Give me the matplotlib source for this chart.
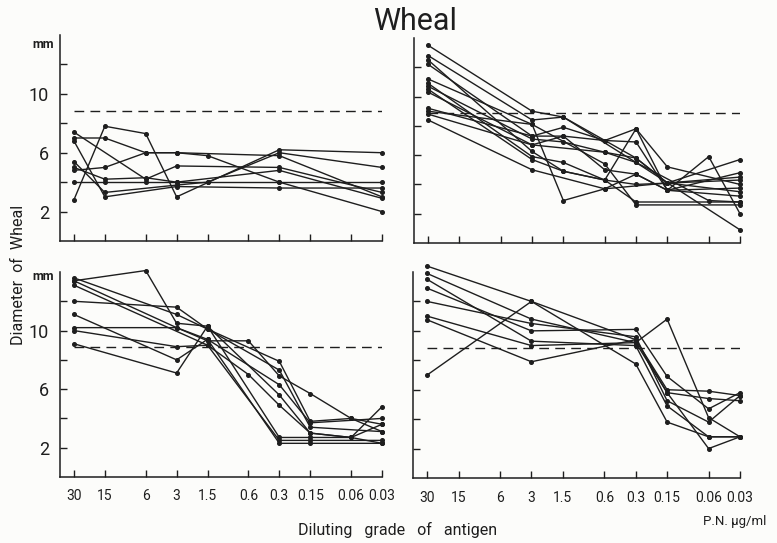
import matplotlib.pyplot as plt

# dilution grades of the antigen (P.N. ug/ml) on the x axis
dilutions = [30, 15, 6, 3, 1.5, 0.6, 0.3, 0.15, 0.06, 0.03]
dilution_labels = ['30', '15', '6', '3', '1.5', '0.6', '0.3', '0.15', '0.06', '0.03']

# wheal diameter (mm) per subject; None = no reading at that grade
top_left = [
    [2.8, 7.8, 7.3, 3.0, None, None, 6.2, None, None, 6.0],
    [7.0, 7.0, 6.0, 6.0, None, None, 5.8, None, None, 3.0],
    [7.4, None, 4.2, 5.1, None, None, 5.0, None, None, 3.3],
    [4.0, 4.0, 4.0, 4.0, 4.0, None, 4.0, None, None, 4.0],
    [6.8, 3.0, None, 3.7, None, None, 3.6, None, None, 3.6],
    [5.4, 3.3, None, 3.8, 4.0, None, 6.0, None, None, 5.0],
    [5.0, 4.2, 4.3, 4.0, None, None, 4.8, None, None, 2.9],
    [4.8, 5.0, 6.0, 6.0, 5.8, None, 4.0, None, None, 2.0],
]

top_right = [
    [13.5, None, None, 9.0, 8.6, None, 5.5, None, None, 0.9],
    [12.8, None, None, 8.4, 8.6, None, 5.8, 4.1, None, 3.5],
    [12.5, None, None, 6.25, 4.9, 4.3, 7.8, 5.2, None, 4.0],
    [12.2, None, None, 7.3, 7.9, 7.0, 6.9, 3.6, 5.9, 2.0],
    [11.2, None, None, 8.1, 2.9, 3.7, None, 4.1, None, 4.5],
    [10.9, None, None, 5.9, 5.5, 4.3, 4.0, None, None, 4.3],
    [10.7, None, None, 7.1, 6.9, 6.2, 5.5, None, 2.9, 2.8],
    [10.5, None, None, 5.7, 4.9, 4.3, 2.8, None, None, 2.8],
    [10.3, None, None, 6.7, 7.3, 5.0, 4.7, 3.6, None, 3.75],
    [9.2, None, None, 7.3, 7.3, 7.0, 7.8, 3.6, None, 4.8],
    [9.0, None, None, 8.1, None, 5.4, 2.6, None, None, 2.6],
    [8.8, None, None, 6.7, None, 6.2, 5.8, 4.1, None, 5.7],
    [8.4, None, None, 5.0, None, 3.7, 4.7, 3.6, None, 3.2],
]

bottom_left = [
    [13.4, None, 14.1, 10.5, 10.3, None, 2.7, 2.7, 2.7, 3.6],
    [13.6, None, None, 11.1, 10.1, None, 7.3, 3.4, None, 3.1],
    [13.1, None, None, None, 9.0, None, 2.5, 2.5, None, 2.5],
    [12.0, None, None, 11.6, 10.1, None, 7.9, 3.8, 4.0, 3.6],
    [11.1, None, None, 8.0, 9.4, None, 6.3, 3.7, None, 4.0],
    [10.2, None, None, 10.2, 9.3, 9.3, 6.9, 5.7, 4.0, 3.1],
    [10.0, None, None, 8.9, 9.0, 7.0, 4.9, 3.0, 2.7, 4.8],
    [9.1, None, None, 7.1, 10.3, None, 5.6, 3.0, 2.7, 2.3],
    [13.4, None, None, 10.2, 9.4, None, 2.3, 2.3, None, 2.3],
]

bottom_right = [
    [14.4, None, None, 12.0, None, None, 9.4, 6.0, 5.9, 5.6],
    [13.9, None, None, 10.8, None, None, 9.2, 5.8, 5.4, 5.25],
    [13.5, None, None, 9.3, None, None, 9.0, 4.9, 2.8, 2.8],
    [12.9, None, None, 10.0, None, None, 10.1, 6.9, 4.7, 5.8],
    [12.0, None, None, 10.5, None, None, 9.6, 5.25, 3.8, 5.6],
    [11.0, None, None, 9.0, None, None, 9.2, 10.8, 4.1, 2.8],
    [10.75, None, None, 7.9, None, None, 9.4, 5.8, 2.0, 2.8],
    [7.0, None, None, 12.0, None, None, 7.75, 3.8, 2.8, 2.8],
]

threshold_mm = 8.85

INK = '#1e1e1e'
FIG_W, FIG_H = 777, 543

plt.rcParams['font.family'] = ['Roboto', 'DejaVu Sans']


def px_axes(fig, left, top, right, bottom):
    return fig.add_axes([left / FIG_W, 1 - bottom / FIG_H,
                         (right - left) / FIG_W, (bottom - top) / FIG_H])


def draw_panel(ax, series, xlabels, ylabels):
    for row in series:
        xs = [d for d, v in zip(dilutions, row) if v is not None]
        ys = [v for v in row if v is not None]
        ax.plot(xs, ys, color=INK, lw=1.0, marker='o', ms=2.6, clip_on=False)
    ax.plot([dilutions[0], dilutions[-1]], [threshold_mm, threshold_mm],
            color=INK, lw=1.0, ls=(0, (7, 4.5)))

    ax.set_xscale('log')
    ax.set_xlim(41, 0.03)
    ax.set_ylim(0, 14)
    ax.minorticks_off()
    ax.set_xticks(dilutions)
    ax.set_xticklabels(dilution_labels if xlabels else [''] * len(dilutions))
    ax.set_yticks([2, 4, 6, 8, 10, 12])
    ax.set_yticklabels(['2', '', '6', '', '10', ''] if ylabels else [''] * 6)
    ax.tick_params(direction='in', length=5, width=1, color=INK, labelcolor=INK)
    ax.tick_params(axis='x', labelsize=10, pad=9)
    ax.tick_params(axis='y', labelsize=13, pad=8)
    for side in ('top', 'right'):
        ax.spines[side].set_visible(False)
    for side in ('left', 'bottom'):
        ax.spines[side].set_linewidth(1.1)
        ax.spines[side].set_color(INK)
    ax.patch.set_alpha(0)


fig = plt.figure(figsize=(FIG_W / 100, FIG_H / 100), dpi=100, facecolor='#fcfcfa')

ax_tl = px_axes(fig, 60, 35, 382, 241)
ax_tr = px_axes(fig, 414, 38, 740, 243)
ax_bl = px_axes(fig, 60, 272, 382, 477)
ax_br = px_axes(fig, 413, 272, 740, 478)

draw_panel(ax_tl, top_left, False, True)
draw_panel(ax_tr, top_right, False, False)
draw_panel(ax_bl, bottom_left, True, True)
draw_panel(ax_br, bottom_right, True, False)

fig.text(415 / FIG_W, 1 - 22 / FIG_H, 'Wheal', fontsize=22, ha='center',
         va='center', color=INK)
fig.text(43 / FIG_W, 1 - 45 / FIG_H, 'mm', fontsize=9, ha='center', va='center',
         color=INK, fontweight='bold')
fig.text(43 / FIG_W, 1 - 277 / FIG_H, 'mm', fontsize=9, ha='center', va='center',
         color=INK, fontweight='bold')
fig.text(19 / FIG_W, 1 - 275 / FIG_H, 'Diameter  of  Wheal', rotation=90, fontsize=11.5,
         ha='center', va='center', color=INK)
fig.text(398 / FIG_W, 1 - 530 / FIG_H, 'Diluting   grade   of   antigen', fontsize=11.5,
         ha='center', va='center', color=INK)
fig.text(766 / FIG_W, 1 - 522 / FIG_H, 'P.N. µg/ml', fontsize=9.5, ha='right',
         va='center', color=INK)

fig.savefig('out.png', dpi=100, facecolor=fig.get_facecolor())
